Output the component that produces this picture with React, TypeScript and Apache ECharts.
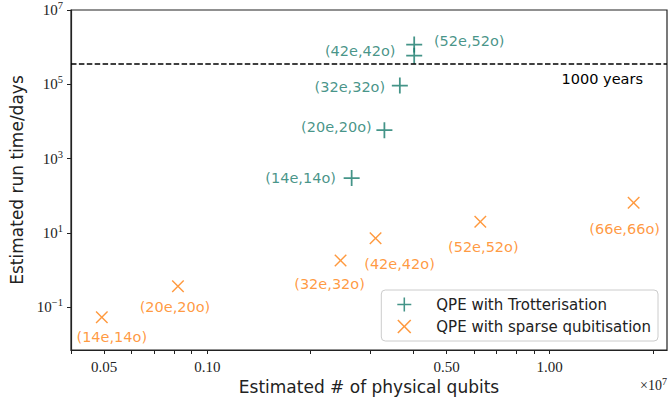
import React, { useEffect, useRef } from "react";
import * as echarts from "echarts";

// ---- data ----
const trotterLabels = ["(14e,14o)", "(20e,20o)", "(32e,32o)", "(42e,42o)", "(52e,52o)"];
const trotterQubits = [2.64e6, 3.29e6, 3.65e6, 4.02e6, 4.02e6];
const trotterDays = [298, 5820, 92300, 5.9e5, 1.17e6];

const sparseLabels = ["(14e,14o)", "(20e,20o)", "(32e,32o)", "(42e,42o)", "(52e,52o)", "(66e,66o)"];
const sparseQubits = [4.92e5, 8.21e5, 2.45e6, 3.1e6, 6.27e6, 1.758e7];
const sparseDays = [0.053, 0.363, 1.79, 7.2, 20.0, 64.3];

const thousandYearsDays = 365250;
const thousandYearsText = "1000 years";

const xLabelValues = [5e5, 1e6, 5e6, 1e7];
const xTickValues = [4e5, 5e5, 6e5, 7e5, 8e5, 9e5, 1e6, 2e6, 3e6, 4e6, 5e6, 6e6, 7e6, 8e6, 9e6, 1e7, 2e7];
const yLabelValues = [0.1, 10, 1e3, 1e5, 1e7];

const seriesNames = ["QPE with Trotterisation", "QPE with sparse qubitisation"];
const xTitle = "Estimated # of physical qubits";
const yTitle = "Estimated run time/days";

// ---- layout / style (not data) ----
const GREEN = "#15796a";
const ORANGE = "#ff7f0e";
const INK = "#222222";
const trotterOffsets = [[-51, 0], [-48, -3], [-50, 1], [-54, -5], [55, -4]];
const sparseOffsets = [[10, 20], [-3, 21], [-11, 23], [24, 26], [3, 25], [-9, 26]];

const PLUS = "path://M4.45,0H5.55V4.45H10V5.55H5.55V10H4.45V5.55H0V4.45H4.45Z";
const d = 0.8;
const CROSS =
  "path://M" + d + ",0L5," + (5 - d) + "L" + (10 - d) + ",0L10," + d + "L" + (5 + d) + ",5L10," + (10 - d) +
  "L" + (10 - d) + ",10L5," + (5 + d) + "L" + d + ",10L0," + (10 - d) + "L" + (5 - d) + ",5L0," + d + "Z";

const SANS = "DejaVu Sans";
const SERIF = "Liberation Serif";

export default function App() {
  const ref = useRef<HTMLDivElement>(null);
  useEffect(() => {
    if (!ref.current) return;
    const chart = echarts.init(ref.current, null, { renderer: "svg" });

    const trotterData = trotterQubits.map((x, i) => ({
      name: trotterLabels[i],
      value: [x, trotterDays[i]],
      label: { offset: trotterOffsets[i] },
    }));
    const sparseData = sparseQubits.map((x, i) => ({
      name: sparseLabels[i],
      value: [x, sparseDays[i]],
      label: { offset: sparseOffsets[i] },
    }));

    const supRich = {
      b: { fontFamily: SERIF, fontSize: 15, color: INK },
      s: { fontFamily: SERIF, fontSize: 10.5, color: INK, padding: [0, 0, 9, 0] },
    };

    chart.setOption({
      animation: false,
      backgroundColor: "#ffffff",
      grid: {
        left: 68,
        right: 2,
        top: 7,
        bottom: 54,
        show: true,
        borderColor: INK,
        borderWidth: 1.2,
        containLabel: false,
      },
      xAxis: {
        type: "log",
        logBase: 10,
        min: 4e5,
        max: 2.2e7,
        name: xTitle,
        nameLocation: "middle",
        nameGap: 25,
        nameTextStyle: { fontFamily: SANS, fontSize: 17, color: INK },
        axisLine: { show: true, lineStyle: { color: INK, width: 1.2 } },
        axisTick: { show: true, length: 4, lineStyle: { color: INK }, customValues: xTickValues },
        axisLabel: {
          customValues: xLabelValues,
          margin: 9,
          fontFamily: SERIF,
          fontSize: 15,
          color: INK,
          formatter: (v: number) => (v / 1e7).toFixed(2),
        },
        splitLine: { show: false },
        minorTick: { show: false },
        minorSplitLine: { show: false },
      },
      yAxis: {
        type: "log",
        logBase: 10,
        min: 0.007,
        max: 1e7,
        name: yTitle,
        nameLocation: "middle",
        nameGap: 46,
        nameTextStyle: { fontFamily: SANS, fontSize: 17, color: INK },
        axisLine: { show: true, lineStyle: { color: INK, width: 1.2 } },
        axisTick: { show: true, length: 4, lineStyle: { color: INK }, customValues: yLabelValues },
        axisLabel: {
          customValues: yLabelValues,
          margin: 8,
          formatter: (v: number) => {
            const e = Math.round(Math.log10(v));
            return "{b|10}{s|" + (e < 0 ? "\u2212" + -e : String(e)) + "}";
          },
          rich: supRich,
        },
        splitLine: { show: false },
      },
      legend: {
        orient: "vertical",
        right: 11,
        bottom: 63,
        padding: [7, 7, 7, 16],
        itemWidth: 16,
        itemHeight: 14,
        itemGap: 7,
        backgroundColor: "#ffffff",
        borderColor: "#cccccc",
        borderWidth: 1,
        borderRadius: 4,
        textStyle: { fontFamily: SANS, fontSize: 15, color: INK, padding: [0, 0, 0, 19] },
        data: [
          { name: seriesNames[0], icon: PLUS },
          { name: seriesNames[1], icon: CROSS },
        ],
      },
      graphic: [
        {
          type: "text",
          right: 2,
          top: 376,
          style: {
            text: "\u00d710{s|7}",
            fontFamily: SERIF,
            fontSize: 14,
            fill: INK,
            rich: { s: { fontFamily: SERIF, fontSize: 10, fill: INK, padding: [0, 0, 8, 0] } },
          },
        },
      ],
      series: [
        {
          type: "scatter",
          name: seriesNames[0],
          symbol: PLUS,
          symbolSize: 16,
          itemStyle: { color: GREEN },
          label: {
            show: true,
            position: "inside",
            formatter: "{b}",
            fontFamily: SANS,
            fontSize: 14.5,
            color: GREEN,
          },
          data: trotterData,
          markLine: {
            silent: true,
            symbol: "none",
            lineStyle: { color: "#000000", type: [5.5, 2.4], width: 1.5 },
            label: {
              show: true,
              position: "insideEndBottom",
              formatter: thousandYearsText,
              fontFamily: SANS,
              fontSize: 14.5,
              color: "#000000",
              distance: [24, 8],
            },
            data: [{ yAxis: thousandYearsDays }],
          },
          z: 3,
        },
        {
          type: "scatter",
          name: seriesNames[1],
          symbol: CROSS,
          symbolSize: 12.5,
          itemStyle: { color: ORANGE },
          label: {
            show: true,
            position: "inside",
            formatter: "{b}",
            fontFamily: SANS,
            fontSize: 14.5,
            color: ORANGE,
          },
          data: sparseData,
          z: 3,
        },
      ],
    });
    return () => chart.dispose();
  }, []);
  return <div ref={ref} style={{ position: "absolute", left: 0, top: 0, width: 669, height: 404 }} />;
}
